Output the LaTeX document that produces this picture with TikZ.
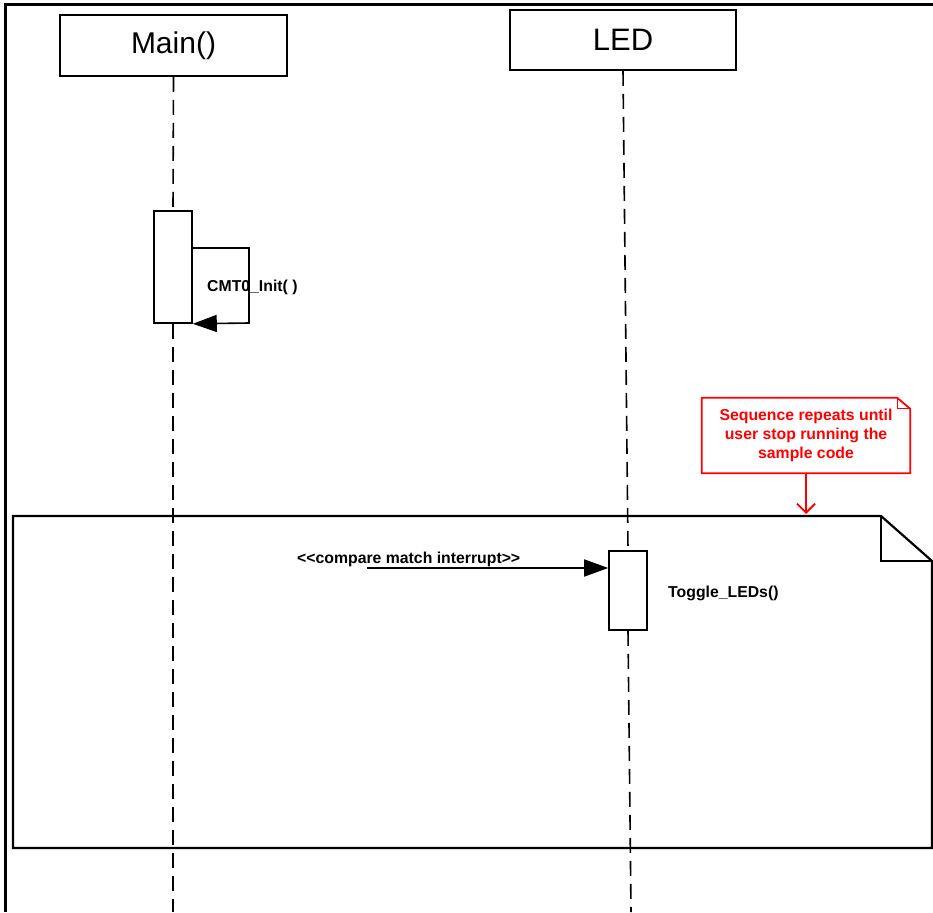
\documentclass[tikz,border=0pt]{standalone}
\usepackage{fontspec}
\setmainfont{Liberation Sans}
\usetikzlibrary{arrows.meta,calc}
\begin{document}
\begin{tikzpicture}[x=1pt,y=-1pt,
  head/.style={draw, line width=1.6pt, fill=white, inner sep=0pt},
  actbar/.style={draw, line width=1.6pt, fill=white, inner sep=0pt, minimum width=38pt},
  life/.style={line width=1.6pt, dash pattern=on 15pt off 8pt},
  lbl/.style={font=\bfseries\fontsize{15.8}{19}\selectfont, inner sep=0pt, anchor=base west},
  msg/.style={line width=1.6pt, -{Triangle[length=24pt,width=17pt]}},
  notetext/.style={text=red, font=\bfseries\fontsize{15.8}{19}\selectfont, align=center, inner sep=0pt, minimum width=208pt, minimum height=75pt},
]
\useasboundingbox (0,0) rectangle (933,912);
% outer border
\coordinate (obl) at (5.5,912);
\coordinate (otl) at (5.5,5);
\coordinate (otr) at (933,5);
\draw[line width=3pt] (obl) -- (otl) -- (otr);

% loop frame
\coordinate (fa) at (13,516);
\coordinate (fb) at (881,516);
\coordinate (fc) at (932,561);
\coordinate (fd) at (932,848);
\coordinate (fe) at (13,848);
\coordinate (ff) at (881,561);
\draw[line width=2.2pt, line join=miter] (fa) -- (fb) -- (fc) -- (fd) -- (fe) -- cycle;
\draw[line width=2.2pt] (fb) -- (ff) -- (fc);

% heads
\node[head, minimum width=227pt, minimum height=61pt, font=\fontsize{30}{36}\selectfont] (main) at (173.5,45.5) {Main()};
\node[head, minimum width=226pt, minimum height=60pt, font=\fontsize{31}{36}\selectfont] (led) at (623,40) {LED};

% activation bars
\node[actbar, minimum height=112pt] (act1) at (173,267) {};
\node[actbar, minimum height=79pt] (act2) at (628,590.5) {};

% lifelines
\coordinate (mainend) at (173,912);
\coordinate (ledend) at (631,912);
\draw[life] (main.south) -- (act1.north);
\draw[life] (act1.south) -- (mainend);
\draw[life] (led.south) -- (act2.north);
\draw[life] (act2.south) -- (ledend);
% redraw bars on top
\node[actbar, minimum height=112pt] at (act1) {};
\node[actbar, minimum height=79pt] at (act2) {};

% self call
\coordinate (s1) at (192,248);
\coordinate (s2) at (249,248);
\coordinate (s3) at (249,323);
\draw[msg] (s1) -- (s2) -- (s3) -- (act1.south east);
\node[lbl] (cmt) at (207,291) {CMT0\_Init( )};

% message
\coordinate (m0) at (367,568);
\draw[msg] (m0) -- (act2.west |- m0);
\node[lbl] (cmp) at (297,563) {<{}<compare match interrupt>{}>};
\node[lbl] (tog) at (668,597) {Toggle\_LEDs()};

% note
\node[notetext] (note) at (806,435.5) {Sequence repeats until\\user stop running the\\sample code};
\draw[red, line width=1.8pt] (note.north west) -- ($(note.north east)+(-13,0)$) -- ($(note.north east)+(0,11)$) -- (note.south east) -- (note.south west) -- cycle;
\draw[red, line width=1.2pt] ($(note.north east)+(-13,0)$) -- ($(note.north east)+(-13,11)$) -- ($(note.north east)+(0,11)$);
\coordinate (noteend) at (806,514);
\draw[red, line width=1.8pt, -{Straight Barb[length=9pt,width=18pt]}] (note.south) -- (noteend);
\end{tikzpicture}
\end{document}
